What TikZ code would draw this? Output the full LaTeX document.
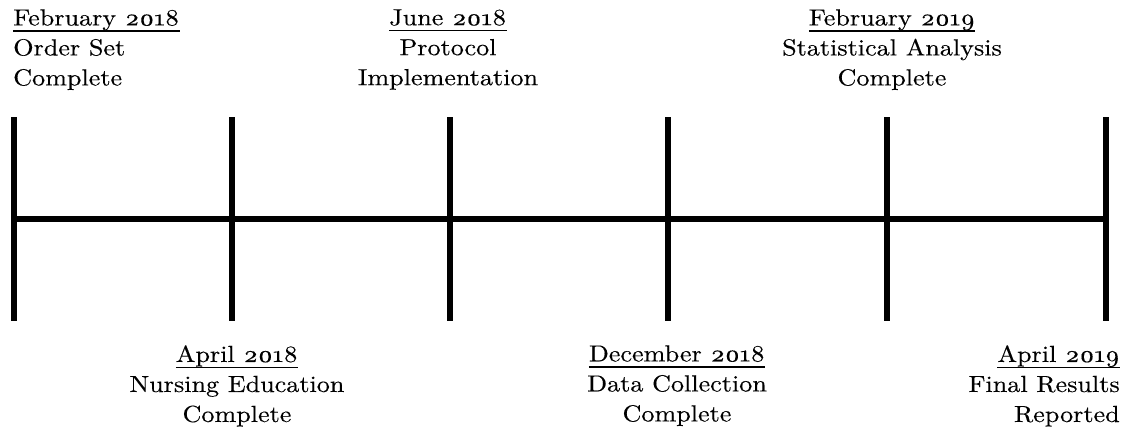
\documentclass[tikz,border=0pt]{standalone}
\usepackage{fontspec}
\setmainfont{lmroman10-regular.otf}[FakeStretch=1.12, FakeBold=0.3]
\usepackage{tikz}

% date heading with a rule close under the baseline
\newcommand{\datehead}[1]{\setbox0\hbox{#1}\rlap{\rule[-4.6pt]{\wd0}{1.2pt}}\box0}
\newcommand{\yr}[1]{{\addfontfeature{Numbers=OldStyle}#1}}

\tikzset{
  bar/.style={line width=4pt},
  milestone/.style={inner sep=0pt, font=\fontsize{17.5}{22.5}\selectfont},
}

\begin{document}
\begin{tikzpicture}[x=0.75pt,y=0.75pt,yscale=-1,xscale=1]
\useasboundingbox (0,0) rectangle (1132,436);

%Tick ends
\coordinate (t1) at (14,117);    \coordinate (b1) at (14,321);
\coordinate (t2) at (232,117);   \coordinate (b2) at (232,321);
\coordinate (t3) at (450,117);   \coordinate (b3) at (450,321);
\coordinate (t4) at (668,117);   \coordinate (b4) at (668,321);
\coordinate (t5) at (887,117);   \coordinate (b5) at (887,321);
\coordinate (t6) at (1106,117);  \coordinate (b6) at (1106,321);
\coordinate (start) at (14,219);
\coordinate (end) at (1106,219);

%Straight Lines [timeline]
\draw [bar] (start) -- (end) ;
%Straight Lines [ticks]
\draw [bar] (t1) -- (b1) ;
\draw [bar] (t2) -- (b2) ;
\draw [bar] (t3) -- (b3) ;
\draw [bar] (t4) -- (b4) ;
\draw [bar] (t5) -- (b5) ;
\draw [bar] (t6) -- (b6) ;

% Text Node
\node [milestone, anchor=north west, align=left] (orderset) at (13,9) {\datehead{February \yr{2018}}\\Order Set\\Complete};
% Text Node
\node [milestone, anchor=north, align=center] (nursing) at (237,345) {\datehead{April \yr{2018}}\\Nursing Education\\Complete};
% Text Node
\node [milestone, anchor=north, align=center] (protocol) at (448,9) {\datehead{June \yr{2018}}\\Protocol\\Implementation};
% Text Node
\node [milestone, anchor=north, align=center] (datacoll) at (677,345) {\datehead{December \yr{2018}}\\Data Collection\\Complete};
% Text Node
\node [milestone, anchor=north, align=center] (stats) at (892,9) {\datehead{February \yr{2019}}\\Statistical Analysis\\Complete};
% Text Node
\node [milestone, anchor=north east, align=right] (results) at (1120,345) {\datehead{April \yr{2019}}\\Final Results\\Reported};

\end{tikzpicture}
\end{document}
